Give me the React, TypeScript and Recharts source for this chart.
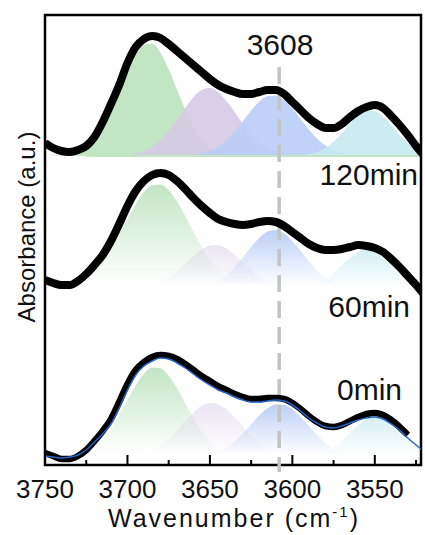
import { Area, ComposedChart, Line, ReferenceArea, ReferenceLine, XAxis, YAxis } from "recharts";

// wavenumber grid (cm-1), high to low
const waves = [
  3750, 3745, 3740, 3735, 3730, 3725, 3720, 3715, 3710, 3705,
  3700, 3695, 3690, 3685, 3680, 3675, 3670, 3665, 3660, 3655,
  3650, 3645, 3640, 3635, 3630, 3625, 3620, 3615, 3610, 3605,
  3600, 3595, 3590, 3585, 3580, 3575, 3570, 3565, 3560, 3555,
  3550, 3545, 3540, 3535, 3530, 3525, 3520,
];

const xTicks = [3750, 3725, 3700, 3675, 3650, 3625, 3600, 3575, 3550, 3525];

// measured spectra (stacked, arbitrary units)
const spec120 = [
  322, 317, 314, 313, 315, 319, 328, 343, 361, 380,
  402, 418, 426, 429, 427, 421, 414, 407, 400, 393,
  386, 380, 376, 373, 371, 371, 373, 375, 375, 371,
  363, 355, 347, 341, 337, 337, 341, 348, 354, 358,
  360, 357, 349, 340, 330, 319, 309,
];
const spec60 = [
  185, 182, 180, 180, 184, 191, 200, 210, 224, 241,
  259, 274, 284, 290, 292, 290, 284, 276, 267, 259,
  252, 246, 243, 241, 240, 241, 243, 244, 243, 239,
  233, 227, 221, 217, 215, 215, 216, 218, 220, 219,
  217, 213, 206, 198, 189, 180, 170,
];
const spec0 = [
  12, 9, 6, 6, 9, 15, 24, 34, 46, 63,
  81, 95, 103, 108, 110, 109, 106, 101, 95, 89,
  84, 79, 75, 71, 68, 66, 66, 67, 67, 66,
  62, 56, 49, 43, 39, 38, 40, 44, 48, 51,
  52, 50, 45, 38, 30, null, null,
];
// cumulative fit of the 0min spectrum
const fit0 = [
  9, 8, 7, 8, 10, 15, 23, 31, 41, 57,
  75, 90, 99, 104, 107, 106, 102, 97, 91, 85,
  80, 75, 72, 68, 65, 63, 63, 64, 65, 64,
  60, 54, 47, 42, 38, 37, 39, 42, 45, 47,
  48, 46, 41, 35, 27, 20, 13,
];

// baselines of the fitted peaks for each spectrum
const base120 = 309;
const base60 = 176;
const base0 = 7;

// fitted peak heights above each baseline
const green120 = [
  0, 0.2, 0.7, 1.6, 3.8, 8, 15.3, 26.8, 42.8, 62.4,
  82.9, 100.5, 111.2, 112.2, 103.3, 86.8, 66.5, 46.5, 29.6, 17.3,
  9.2, 4.4, 2, 0.8, 0.3, 0, 0, 0, 0, 0,
  0, 0, 0, 0, 0, 0, 0, 0, 0, 0,
  0, 0, 0, 0, 0, 0, 0,
];
const purple120 = [
  0, 0, 0, 0, 0, 0, 0, 0, 0.2, 0.5,
  1.1, 2.4, 4.9, 9.2, 15.9, 25, 36, 48, 59, 66,
  68, 64, 55, 44, 32, 21, 13, 7.2, 3.7, 1.7,
  0.8, 0.3, 0, 0, 0, 0, 0, 0, 0, 0,
  0, 0, 0, 0, 0, 0, 0,
];
const blue120 = [
  0, 0, 0, 0, 0, 0, 0, 0, 0, 0,
  0, 0, 0, 0, 0, 0, 0, 0.5, 1.1, 2.5,
  5, 9.3, 15.7, 24.5, 35, 45.5, 54.6, 60, 60.6, 56,
  47.5, 37, 26.4, 17.3, 10.4, 5.7, 2.9, 1.3, 0.6, 0.2,
  0, 0, 0, 0, 0, 0, 0,
];
const cyan120 = [
  0, 0, 0, 0, 0, 0, 0, 0, 0, 0,
  0, 0, 0, 0, 0, 0, 0, 0, 0, 0,
  0, 0, 0, 0, 0, 0, 0, 0, 0, 0,
  0.2, 0.7, 1.8, 4, 8.1, 14.5, 23, 32.6, 41, 45.6,
  45, 39.5, 30.8, 21.3, 13, 7.1, 3.4,
];

const green60 = [
  0.3, 0.7, 1.6, 3.1, 5.9, 10.4, 17.3, 26.9, 39.4, 54.2,
  70, 85, 96.9, 103.8, 104.5, 98.7, 87.7, 73.2, 57.3, 42.2,
  29.2, 19, 11.6, 6.6, 3.6, 1.8, 0.9, 0.4, 0, 0,
  0, 0, 0, 0, 0, 0, 0, 0, 0, 0,
  0, 0, 0, 0, 0, 0, 0,
];
const purple60 = [
  0, 0, 0, 0, 0, 0, 0, 0, 0, 0,
  0.3, 0.8, 1.8, 3.6, 6.7, 11.4, 17.6, 25, 32.9, 39.4,
  43.3, 43.7, 40.4, 34.3, 26.7, 19, 12.5, 7.5, 4.1, 2.1,
  1, 0.4, 0, 0, 0, 0, 0, 0, 0, 0,
  0, 0, 0, 0, 0, 0, 0,
];
const blue60 = [
  0, 0, 0, 0, 0, 0, 0, 0, 0, 0,
  0, 0, 0, 0, 0, 0, 0, 0.4, 0.9, 2.1,
  4.2, 8, 13.7, 21.8, 31.6, 42, 51.3, 57.4, 59, 55.5,
  47.8, 37.9, 27.5, 18.3, 11.2, 6.3, 3.2, 1.5, 0.7, 0.3,
  0, 0, 0, 0, 0, 0, 0,
];
const cyan60 = [
  0, 0, 0, 0, 0, 0, 0, 0, 0, 0,
  0, 0, 0, 0, 0, 0, 0, 0, 0, 0,
  0, 0, 0, 0, 0, 0, 0, 0, 0, 0,
  0.4, 1.1, 2.6, 5.3, 9.7, 16, 23.7, 31.2, 36.9, 39,
  36.9, 31.2, 23.7, 16, 9.7, 5.3, 2.6,
];

const green0 = [
  0.1, 0.2, 0.6, 1.3, 2.9, 5.8, 10.7, 18.4, 29.1, 42.7,
  57.9, 72.7, 84.3, 90.4, 89.7, 82.3, 69.9, 54.8, 39.8, 26.7,
  16.6, 9.5, 5.1, 2.5, 1.1, 0.5, 0, 0, 0, 0,
  0, 0, 0, 0, 0, 0, 0, 0, 0, 0,
  0, 0, 0, 0, 0, 0, 0,
];
const purple0 = [
  0, 0, 0, 0, 0, 0, 0, 0, 0, 0.4,
  1, 2.1, 4.1, 7.4, 12.5, 19.4, 27.8, 37, 45.6, 52,
  55, 53.6, 48.5, 40.7, 31.5, 22.6, 15, 9.2, 5.3, 2.8,
  1.4, 0.6, 0.2, 0, 0, 0, 0, 0, 0, 0,
  0, 0, 0, 0, 0, 0, 0,
];
const blue0 = [
  0, 0, 0, 0, 0, 0, 0, 0, 0, 0,
  0, 0, 0, 0, 0, 0, 0, 0.3, 0.7, 1.5,
  3, 5.8, 10.1, 16.4, 24.5, 33.7, 42.7, 49.8, 53.6, 53.2,
  48.6, 41, 31.8, 22.8, 15, 9.1, 5.1, 2.6, 1.3, 0.5,
  0.2, 0, 0, 0, 0, 0, 0,
];
const cyan0 = [
  0, 0, 0, 0, 0, 0, 0, 0, 0, 0,
  0, 0, 0, 0, 0, 0, 0, 0, 0, 0,
  0, 0, 0, 0, 0, 0, 0, 0, 0, 0,
  0.2, 0.5, 1.2, 2.7, 5.5, 10.2, 16.9, 24.9, 32.8, 38.8,
  41, 38.8, 32.8, 24.9, 16.9, 10.2, 5.5,
];

const timeLabels = [
  { text: "120min", x: 418, y: 185 },
  { text: "60min", x: 410, y: 317 },
  { text: "0min", x: 402, y: 400 },
];

const GREEN = "#c2e5c4";
const PURPLE = "#d6cae6";
const BLUE = "#b9cdf6";
const CYAN = "#c6eaf0";
const FONT = "'Liberation Sans', Arial, sans-serif";

const rows = waves.map((w, i) => ({
  w,
  s120: spec120[i],
  s60: spec60[i],
  s0: spec0[i],
  f0: fit0[i],
  g120: [base120, base120 + green120[i]],
  p120: [base120, base120 + purple120[i]],
  b120: [base120, base120 + blue120[i]],
  c120: [base120, base120 + cyan120[i]],
  g60: [base60, base60 + green60[i]],
  p60: [base60, base60 + purple60[i]],
  b60: [base60, base60 + blue60[i]],
  c60: [base60, base60 + cyan60[i]],
  g0: [base0, base0 + green0[i]],
  p0: [base0, base0 + purple0[i]],
  b0: [base0, base0 + blue0[i]],
  c0: [base0, base0 + cyan0[i]],
}));

const WaveTick = (props: any) => {
  const { x, y, payload } = props;
  const major = payload.value % 50 === 0;
  return (
    <g>
      <line x1={x} x2={x} y1={y} y2={y - (major ? 10 : 5)} stroke="#000" strokeWidth={2} />
      {major && (
        <text x={x} y={y + 33} textAnchor="middle" fontSize={26} fontFamily={FONT} fill="#111">
          {payload.value}
        </text>
      )}
    </g>
  );
};

const fades = [
  { id: "fadeGreen", color: GREEN, top: 1 },
  { id: "fadePurple", color: PURPLE, top: 0.5 },
  { id: "fadeBlue", color: BLUE, top: 0.95 },
  { id: "fadeCyan", color: CYAN, top: 0.75 },
];

function peak(key: string, fill: string, opacity = 1) {
  return (
    <Area
      key={key}
      dataKey={key}
      type="monotone"
      stroke="none"
      fill={fill}
      fillOpacity={opacity}
      dot={false}
      activeDot={false}
      isAnimationActive={false}
    />
  );
}

export default function App() {
  return (
    <div style={{ position: "absolute", left: 0, top: 0, width: 425, height: 535, background: "#fff" }}>
      <ComposedChart width={425} height={535} data={rows} margin={{ top: 15, right: 4, bottom: 40, left: 45 }}>
        <defs>
          {fades.map((f) => (
            <linearGradient key={f.id} id={f.id} x1="0" y1="0" x2="0" y2="1">
              <stop offset="0%" stopColor={f.color} stopOpacity={f.top} />
              <stop offset="95%" stopColor={f.color} stopOpacity={0} />
            </linearGradient>
          ))}
        </defs>
        <XAxis
          dataKey="w"
          type="number"
          domain={[3522, 3750]}
          reversed
          allowDataOverflow
          ticks={xTicks}
          interval={0}
          height={30}
          tickSize={0}
          tickMargin={0}
          tickLine={false}
          axisLine={false}
          tick={<WaveTick />}
        />
        <YAxis type="number" domain={[0, 450]} hide width={0} allowDataOverflow />

        {peak("g120", GREEN, 1)}
        {peak("p120", PURPLE, 0.9)}
        {peak("b120", BLUE, 0.9)}
        {peak("c120", CYAN, 0.9)}
        <ReferenceLine
          segment={[{ x: 3725, y: base120 }, { x: 3522, y: base120 }]}
          stroke={GREEN}
          strokeWidth={2}
        />

        {peak("g60", "url(#fadeGreen)")}
        {peak("p60", "url(#fadePurple)")}
        {peak("b60", "url(#fadeBlue)")}
        {peak("c60", "url(#fadeCyan)")}

        {peak("g0", "url(#fadeGreen)")}
        {peak("p0", "url(#fadePurple)")}
        {peak("b0", "url(#fadeBlue)")}
        {peak("c0", "url(#fadeCyan)")}

        <ReferenceLine
          segment={[{ x: 3608, y: 398 }, { x: 3608, y: -7 }]}
          ifOverflow="visible"
          stroke="#c3c3c3"
          strokeWidth={3.5}
          strokeDasharray="17 9"
        />

        <Line dataKey="s120" type="monotone" stroke="#000" strokeWidth={8} dot={false} activeDot={false} isAnimationActive={false} />
        <Line dataKey="s60" type="monotone" stroke="#000" strokeWidth={8} dot={false} activeDot={false} isAnimationActive={false} />
        <Line dataKey="s0" type="monotone" stroke="#000" strokeWidth={6.5} dot={false} activeDot={false} isAnimationActive={false} />
        <Line dataKey="f0" type="monotone" stroke="#2566c9" strokeWidth={1.5} dot={false} activeDot={false} isAnimationActive={false} />

        <ReferenceArea
          x1={3522}
          x2={3750}
          y1={0}
          y2={450}
          ifOverflow="visible"
          fill="none"
          fillOpacity={0}
          stroke="#000"
          strokeWidth={2.5}
        />
      </ComposedChart>

      <svg width={425} height={535} style={{ position: "absolute", left: 0, top: 0, pointerEvents: "none" }}>
        <text x={280} y={55} textAnchor="middle" fontSize={30} fontFamily={FONT} fill="#111">
          3608
        </text>
        {timeLabels.map((t) => (
          <text key={t.text} x={t.x} y={t.y} textAnchor="end" fontSize={30} fontFamily={FONT} fill="#111">
            {t.text}
          </text>
        ))}
        <text
          x={35}
          y={227}
          transform="rotate(-90 35 227)"
          textAnchor="middle"
          fontSize={24}
          fontFamily={FONT}
          fill="#111"
        >
          Absorbance (a.u.)
        </text>
        <text x={234} y={527} textAnchor="middle" fontSize={25} fontFamily={FONT} letterSpacing={2} fill="#111">
          Wavenumber (cm
          <tspan fontSize={15} dy={-10}>-1</tspan>
          <tspan dy={10}>)</tspan>
        </text>
      </svg>
    </div>
  );
}
